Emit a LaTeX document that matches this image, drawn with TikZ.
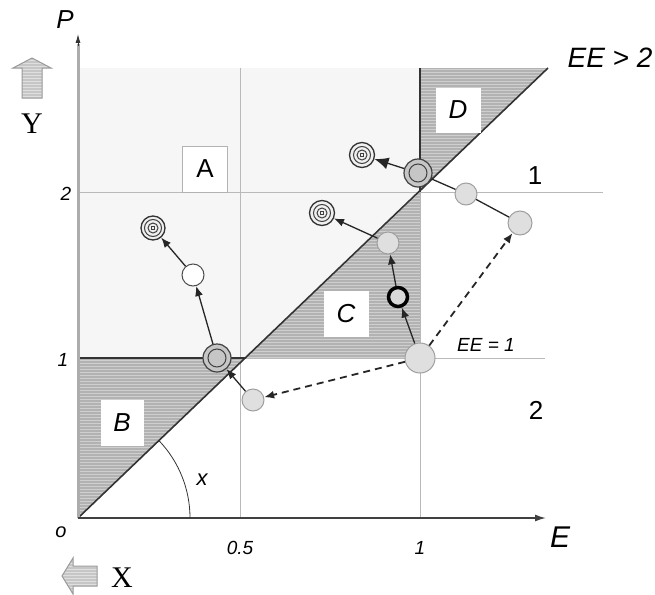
\documentclass[tikz,border=0pt]{standalone}
\usepackage{fontspec}
\setmainfont{Liberation Sans}
\newfontfamily\serifXY{Liberation Serif}
\usetikzlibrary{arrows.meta}
\begin{document}
\begin{tikzpicture}[x=1pt,y=-1pt,
  lab/.style={font=\fontsize{#1}{#1}\selectfont\itshape, inner sep=0pt},
  ulab/.style={font=\fontsize{#1}{#1}\selectfont, inner sep=0pt},
  slab/.style={font=\fontsize{#1}{#1}\selectfont\serifXY, inner sep=0pt},
  regbox/.style={fill=white, inner sep=0pt, minimum width=45pt, minimum height=46pt, font=\fontsize{26}{26}\selectfont\itshape},
  grid/.style={gray!55, line width=0.9pt},
  bound/.style={black!80, line width=1.8pt},
  hatchline/.style={gray!38, line width=1pt},
  pt/.style={circle, draw=gray!75, fill=gray!25, line width=1pt, inner sep=0pt, minimum size=#1},
  tgt/.style={circle, draw=black!80, fill=gray!12, line width=1.3pt, inner sep=0pt, minimum size=25pt},
  dbl/.style={circle, draw=black!75, fill=gray!45, line width=1.2pt, inner sep=0pt, minimum size=28pt},
  arr/.style={-{Latex[length=10pt,width=8pt]}, line width=1.3pt, black!85},
  darr/.style={arr, dash pattern=on 7pt off 5pt, line width=1.8pt},
  conn/.style={line width=1.3pt, black!85}
]
\useasboundingbox (0,0) rectangle (655,594);

% light region
\fill[gray!7] (78,68) -- (420,68) -- (420,192) -- (246,358) -- (78,358) -- cycle;

% hatched regions
\begin{scope}
  \clip (78,358) -- (246,358) -- (78,518) -- cycle
        (246,358) -- (420,192) -- (420,358) -- cycle
        (420,68) -- (420,192) -- (548,68) -- cycle;
  \fill[gray!60] (70,60) rectangle (560,520);
  \foreach \yy in {66,69,...,520} {\draw[hatchline] (70,\yy) -- (560,\yy);}
\end{scope}

% grid lines
\draw[grid] (78,192) -- (603,192);
\draw[grid] (246,358) -- (545,358);
\draw[grid] (240,68) -- (240,518);
\draw[grid] (420,192) -- (420,518);

% boundaries
\draw[bound] (78,358) -- (246,358);
\draw[bound, line width=1.6pt] (78,518) -- (548,68);
\draw[bound] (420,68) -- (420,192);

% axes
\draw[gray!65, line width=3pt] (78,518) -- (78,44);
\draw[black!80, -{Latex[length=9pt,width=5pt]}, line width=1pt] (78,46) -- (78,34);
\draw[black!75, line width=1.5pt, -{Latex[length=11pt,width=7pt]}] (78,518) -- (546,518);

% angle arc
\draw[black!80, line width=0.8pt] (190,518) arc[start angle=0, end angle=-43.6, radius=112];
\node[lab=22] (xl) at (202,480) {x};

% region boxes
\node[regbox, draw=gray!60, line width=1pt, font=\fontsize{26}{26}\selectfont] (A) at (205,169) {A};
\node[regbox, minimum width=43pt] (B) at (122,423) {B};
\node[regbox] (C) at (346,314) {C};
\node[regbox, minimum height=45pt] (D) at (458,110) {D};

% axis labels
\node[lab=26] (P) at (65,20) {P};
\node[lab=30] (E) at (560,537) {E};
\node[lab=19] (t2) at (66,194) {2};
\node[lab=19] (t1) at (63,360) {1};
\node[lab=20] (o) at (61,532) {o};
\node[lab=19] (t05) at (240,548) {0.5};
\node[lab=19] (t1x) at (420,548) {1};
\node[lab=28] (ee2) at (610,58) {EE > 2};
\node[lab=19] (ee1) at (486,345) {EE = 1};
\node[ulab=26] (r1) at (535,176) {1};
\node[ulab=26] (r2) at (536,410) {2};

% big direction arrows
\begin{scope}
  \clip (22,98) -- (22,68) -- (13,68) -- (32,58) -- (51,68) -- (42,68) -- (42,98) -- cycle;
  \fill[gray!45] (10,55) rectangle (55,100);
  \foreach \yy in {57,60,...,100} {\draw[gray!25, line width=0.8pt] (10,\yy) -- (55,\yy);}
\end{scope}
\draw[gray!80, line width=1pt] (22,98) -- (22,68) -- (13,68) -- (32,58) -- (51,68) -- (42,68) -- (42,98) -- cycle;
\node[slab=30] (Y) at (32,124) {Y};

\begin{scope}
  \clip (97,566) -- (73,566) -- (73,558) -- (62,576) -- (73,594) -- (73,586) -- (97,586) -- cycle;
  \fill[gray!45] (60,555) rectangle (100,596);
  \foreach \yy in {557,560,...,596} {\draw[gray!25, line width=0.8pt] (60,\yy) -- (100,\yy);}
\end{scope}
\draw[gray!80, line width=1pt] (97,566) -- (73,566) -- (73,558) -- (62,576) -- (73,594) -- (73,586) -- (97,586) -- cycle;
\node[slab=30] (X) at (122,578) {X};

% points
\node[pt=30pt] (s0) at (420,358) {};
\node[pt=22pt] (s1) at (253,400) {};
\node[pt=24pt] (s2) at (520,223) {};
\node[pt=22pt] (s3) at (466,194) {};
\node[dbl] (d1) at (418,173) {};
\draw[black!75, line width=1pt] (d1) circle[radius=9];
\node[tgt] (g1) at (362,155) {};
\node[circle, draw=black, line width=3.5pt, fill=gray!30, inner sep=0pt, minimum size=19pt] (bk) at (398,297) {};
\node[pt=22pt] (s4) at (388,243) {};
\node[tgt] (g2) at (322,213) {};
\node[dbl] (d2) at (217,358) {};
\draw[black!75, line width=1pt] (d2) circle[radius=9];
\node[pt=22pt, fill=white, draw=black!70] (h) at (193,275) {};
\node[tgt, minimum size=24pt] (g3) at (153,228) {};
\foreach \g in {g1,g2,g3} {
  \draw[black!75, line width=1pt] (\g) circle[radius=8.5];
  \draw[black!75, line width=1pt] (\g) circle[radius=5];
  \draw[black!75, line width=0.7pt] ([shift={(-1.6,-1.6)}]\g.center) rectangle ([shift={(1.6,1.6)}]\g.center);
}

% connectors
\draw[darr] (s0) -- (s1);
\draw[darr] (s0) -- (s2);
\draw[arr] (s0) -- (bk);
\draw[arr] (bk) -- (s4);
\draw[arr] (s4) -- (g2);
\draw[conn] (s2) -- (s3);
\draw[conn] (s3) -- (d1);
\draw[arr, -{Latex[length=14pt,width=12pt]}] (d1) -- (g1);
\draw[arr] (s1) -- (d2);
\draw[arr] (d2) -- (h);
\draw[arr] (h) -- (g3);
\end{tikzpicture}
\end{document}
